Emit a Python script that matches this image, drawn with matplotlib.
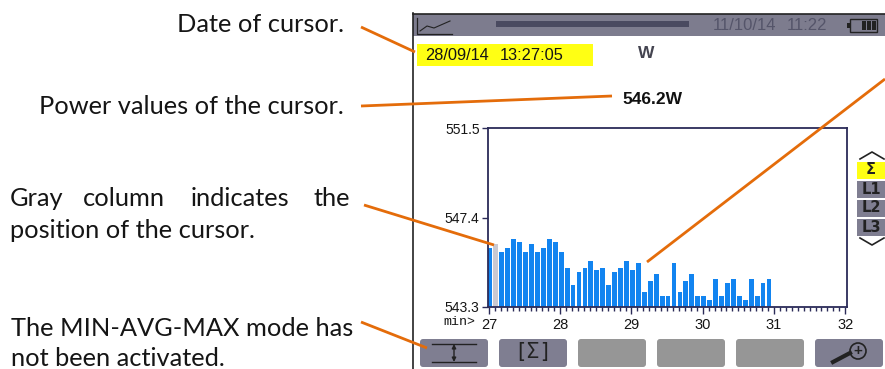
import numpy as np
import matplotlib
matplotlib.use("Agg")
import matplotlib.pyplot as plt
from matplotlib.patches import Rectangle, FancyBboxPatch, Circle

# power per 5 s sample
watts = [546.0, 546.2, 545.8, 546.0, 546.4, 546.3, 545.8, 546.2, 545.8, 546.0, 546.4, 546.3,
         545.8, 545.1, 544.3, 544.9, 545.1, 545.4, 545.0, 545.1, 544.3, 544.9, 545.1, 545.4,
         545.0, 545.3, 544.0, 544.5, 544.8, 543.8, 543.8, 545.3, 544.0, 544.5, 544.8, 543.8,
         543.8, 543.6, 544.6, 543.8, 544.4, 544.6, 543.8, 543.6, 544.6, 543.8, 544.4, 544.6]
cursor_index = 1
x_ticks = [27, 28, 29, 30, 31, 32]
y_ticks = [543.3, 547.4, 551.5]
y_tick_labels = ["543.3", "547.4", "551.5"]
phase_labels = ["Σ", "L1", "L2", "L3"]

W, H = 885, 369
ORANGE = "#e46c0a"
NAVY = "#2b2b58"
HEADER = "#7d7c8e"
BUTTON = "#7f7e91"
BUTTON_OFF = "#969696"
BLUE = "#1284f0"
INK = "#151515"
SCREEN_FONT = "Liberation Sans"
MONO_FONT = "Liberation Mono"
NOTE_FONT = "Lato"
NOTE_SIZE = 18.3

fig = plt.figure(figsize=(W / 100, H / 100), dpi=100)


def box(x0, y0, x1, y1):
    # pixel box (y from the top) to figure fractions
    return [x0 / W, 1 - y1 / H, (x1 - x0) / W, (y1 - y0) / H]


# bar chart on the instrument screen
ax = fig.add_axes(box(488, 128, 847, 307))
xs = 27 + (np.arange(len(watts)) + 0.16) / 12
colors = [BLUE] * len(watts)
colors[cursor_index] = "#c9c9d2"
ax.bar(xs, np.array(watts) - y_ticks[0], bottom=y_ticks[0], width=0.067, color=colors, linewidth=0)
ax.set_xlim(26.986, 32.025)
ax.set_ylim(y_ticks[0], y_ticks[-1])
ax.set_xticks(x_ticks)
ax.set_xticks(27 + np.arange(61) / 12, minor=True)
ax.set_yticks(y_ticks)
ax.set_yticklabels(y_tick_labels, fontname=SCREEN_FONT, fontsize=10, color=INK)
ax.set_xticklabels([str(t) for t in x_ticks], fontname=SCREEN_FONT, fontsize=10.5, color=INK)
ax.tick_params(axis="x", which="major", length=5, width=1, color=NAVY, pad=3)
ax.tick_params(axis="x", which="minor", length=3, width=1, color=NAVY)
ax.tick_params(axis="y", length=4, width=1, color=NAVY, pad=2)
for s in ax.spines.values():
    s.set_color(NAVY)
    s.set_linewidth(1.3)

# everything else is drawn in pixel coordinates over the chart
ov = fig.add_axes([0, 0, 1, 1], facecolor="none")
ov.set_xlim(0, W)
ov.set_ylim(H, 0)
ov.axis("off")

# screen frame and header
ov.add_patch(Rectangle((413, 14), W - 413, 22, color=HEADER, lw=0))
ov.plot([413, W], [13.5, 13.5], color="#222222", lw=1.2)
ov.plot([412.5, 412.5], [13, H], color="#222222", lw=1.2)
ov.plot([417, 417, 452], [18, 34, 34], color="#222222", lw=0.9)
ov.plot([420, 427, 434, 450], [31, 26, 28, 21], color="#222222", lw=0.8)
ov.add_patch(Rectangle((496, 21), 193, 6, color="#4a4a60", lw=0))
ov.text(713, 26, "11/10/14", fontname=SCREEN_FONT, fontsize=12, color="#55556a", va="center")
ov.text(787, 26, "11:22", fontname=SCREEN_FONT, fontsize=12, color="#55556a", va="center")
ov.add_patch(Rectangle((850, 19), 27, 13, fill=False, ec="#222222", lw=1))
ov.add_patch(Rectangle((847, 23), 3, 5, color="#222222", lw=0))
for bx in [862, 867, 872]:
    ov.add_patch(Rectangle((bx, 21), 3.5, 9, color="#222222", lw=0))

# cursor readouts
ov.add_patch(Rectangle((417, 44), 176, 22, color="#ffff14", lw=0))
ov.text(425, 55, "28/09/14", fontname=SCREEN_FONT, fontsize=11.8, color=INK, va="center")
ov.text(500, 55, "13:27:05", fontname=SCREEN_FONT, fontsize=11.8, color=INK, va="center")
ov.text(646, 54, "W", fontname=SCREEN_FONT, fontsize=12.5, fontweight="bold", color="#444450", ha="center", va="center")
ov.text(652, 99, "546.2W", fontname=SCREEN_FONT, fontsize=12.5, fontweight="bold", color="#111111", ha="center", va="center")
ov.text(443, 322, "min>", fontname=MONO_FONT, fontsize=9.5, color=INK, va="center")

# phase selector
rows = [170, 189, 208, 227]
for i, lab in enumerate(phase_labels):
    ov.add_patch(Rectangle((857, rows[i] - 8), 28, 16.5, color="#ffff14" if i == 0 else BUTTON, lw=0))
    ov.text(871, rows[i], lab, fontname="DejaVu Sans", fontsize=10.5, fontweight="bold", color="#222222", ha="center", va="center")
ov.plot([860, 872, 884], [159, 152, 159], color="#222222", lw=1.2)
ov.plot([860, 872, 884], [238, 245, 238], color="#222222", lw=1.2)

# soft keys
lefts = [420, 499, 578, 657, 736, 815]
for i, x0 in enumerate(lefts):
    c = BUTTON_OFF if i in (2, 3, 4) else BUTTON
    ov.add_patch(FancyBboxPatch((x0 + 3, 342), 62, 22, boxstyle="round,pad=3", color=c, lw=0))
ov.plot([432, 476], [344, 344], color="#222222", lw=1)
ov.plot([432, 476], [362, 362], color="#222222", lw=1)
ov.annotate("", xy=(454, 344), xytext=(454, 362), arrowprops=dict(arrowstyle="<|-|>", color="#222222", lw=1, mutation_scale=6, shrinkA=0, shrinkB=0))
ov.text(533, 352, "[Σ]", fontname="DejaVu Sans Mono", fontsize=15, color="#222222", ha="center", va="center")
ov.plot([833, 850], [362, 353], color="#222222", lw=3)
ov.add_patch(Circle((858, 351), 8, fill=False, ec="#222222", lw=1.2))
ov.text(858, 351, "+", fontname=SCREEN_FONT, fontsize=11, fontweight="bold", color="#222222", ha="center", va="center")

# notes on the left
ov.text(344, 25, "Date of cursor.", fontname=NOTE_FONT, fontsize=NOTE_SIZE, color=INK, ha="right", va="center")
ov.text(344, 107, "Power values of the cursor.", fontname=NOTE_FONT, fontsize=NOTE_SIZE, color=INK, ha="right", va="center")
for wx, word in zip([10, 83, 191, 314], ["Gray", "column", "indicates", "the"]):
    ov.text(wx, 199, word, fontname=NOTE_FONT, fontsize=NOTE_SIZE, color=INK, va="center")
ov.text(10, 231, "position of the cursor.", fontname=NOTE_FONT, fontsize=NOTE_SIZE, color=INK, va="center")
ov.text(11, 328, "The MIN-AVG-MAX mode has", fontname=NOTE_FONT, fontsize=NOTE_SIZE, color=INK, va="center")
ov.text(11, 358, "not been activated.", fontname=NOTE_FONT, fontsize=NOTE_SIZE, color=INK, va="center")

# orange leaders
leaders = [((361, 27), (415, 52)), ((361, 106), (612, 96)), ((364, 205), (494, 245)),
           ((361, 322), (427, 348)), ((885, 79), (647, 262))]
for a, b in leaders:
    ov.plot([a[0], b[0]], [a[1], b[1]], color=ORANGE, lw=2, solid_capstyle="butt", clip_on=True)

fig.savefig("out.png", dpi=100)
